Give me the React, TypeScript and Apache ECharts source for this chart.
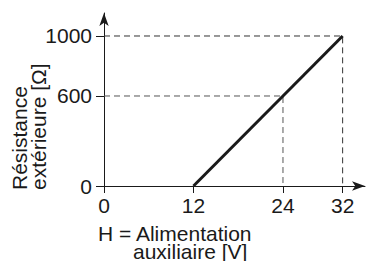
import React, { useEffect, useRef } from "react";
import * as echarts from "echarts";

const xTicks = [0, 12, 24, 32];
const yTicks = [0, 600, 1000];
const mainLine = [
  [12, 0],
  [32, 1000],
];
const guide1000 = [
  [0, 1000],
  [32, 1000],
  [32, 0],
];
const guide600 = [
  [0, 600],
  [24, 600],
  [24, 0],
];
const yNameLines = ["Résistance", "extérieure [Ω]"];
const xNameLines = ["H = Alimentation", "auxiliaire [V]"];

const FONT = "Liberation Sans, Arial, Helvetica, sans-serif";
const INK = "#1a1a1a";

export default function App() {
  const ref = useRef<HTMLDivElement>(null);
  useEffect(() => {
    if (!ref.current) return;
    const chart = echarts.init(ref.current, undefined, { renderer: "svg" });
    chart.setOption({
      animation: false,
      backgroundColor: "#ffffff",
      grid: { left: 104, top: 13, right: 1, bottom: 75 },
      xAxis: {
        type: "value",
        min: 0,
        max: 35,
        splitLine: { show: false },
        axisLine: {
          show: true,
          onZero: false,
          lineStyle: { color: INK, width: 1 },
          symbol: ["none", "arrow"],
          symbolSize: [7, 13],
        },
        axisTick: {
          show: true,
          inside: false,
          length: 7,
          customValues: xTicks,
          lineStyle: { color: INK, width: 1 },
        },
        axisLabel: {
          customValues: xTicks,
          margin: 9,
          fontSize: 21,
          fontFamily: FONT,
          color: INK,
          formatter: (v: number) => String(v),
        },
      },
      yAxis: {
        type: "value",
        min: 0,
        max: 1153.3,
        splitLine: { show: false },
        axisLine: {
          show: true,
          onZero: false,
          lineStyle: { color: INK, width: 1 },
          symbol: ["none", "arrow"],
          symbolSize: [7, 13],
        },
        axisTick: {
          show: true,
          length: 8,
          customValues: yTicks,
          lineStyle: { color: INK, width: 1 },
        },
        axisLabel: {
          customValues: yTicks,
          margin: 12,
          fontSize: 21,
          fontFamily: FONT,
          color: INK,
          formatter: (v: number) => String(v),
        },
      },
      series: [
        {
          type: "line",
          data: guide1000,
          symbol: "none",
          lineStyle: { color: "#333", width: 1, type: [6, 4] },
          z: 1,
        },
        {
          type: "line",
          data: guide600,
          symbol: "none",
          lineStyle: { color: "#555", width: 1, type: [6, 4] },
          z: 1,
        },
        {
          type: "line",
          data: mainLine,
          symbol: "none",
          lineStyle: { color: INK, width: 3 },
          z: 3,
        },
      ],
      graphic: [
        {
          type: "text",
          x: 29,
          y: 190,
          rotation: Math.PI / 2,
          style: {
            text: yNameLines.join("\n"),
            font: `21px ${FONT}`,
            fill: INK,
            textAlign: "left",
            textVerticalAlign: "middle",
            lineHeight: 19,
          },
        },
        {
          type: "text",
          x: 98,
          y: 233,
          style: {
            text: xNameLines[0],
            font: `21px ${FONT}`,
            fill: INK,
            textAlign: "left",
            textVerticalAlign: "middle",
            lineHeight: 18,
          },
        },
        {
          type: "text",
          x: 133,
          y: 251,
          style: {
            text: xNameLines[1],
            font: `21px ${FONT}`,
            fill: INK,
            textAlign: "left",
            textVerticalAlign: "middle",
            lineHeight: 18,
          },
        },
      ],
    });
    return () => chart.dispose();
  }, []);
  return <div ref={ref} style={{ width: 366, height: 261, position: "absolute", left: 0, top: 0 }} />;
}
